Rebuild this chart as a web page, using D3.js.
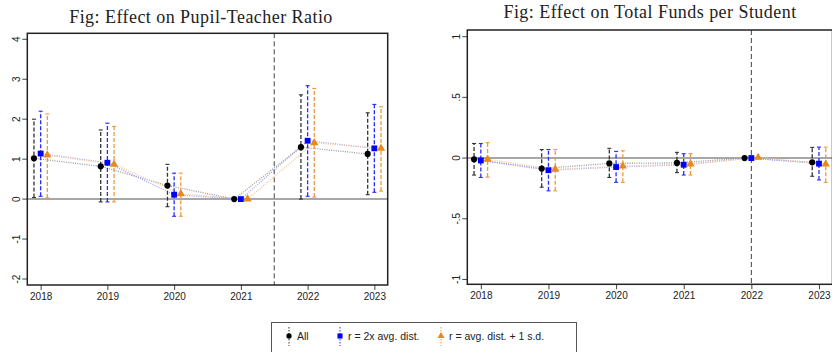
<!DOCTYPE html>
<html>
<head>
<meta charset="utf-8">
<script src="https://cdn.jsdelivr.net/npm/d3@7"></script>
<style>
  body { margin: 0; background: #fff; }
  svg { display: block; }
</style>
</head>
<body>
<svg width="832" height="352"></svg>
<script>
const years = [2018, 2019, 2020, 2021, 2022, 2023];

// effect on pupil-teacher ratio (estimate, lower and upper CI)
const ptAll     = [1.02, 0.82, 0.34, 0, 1.30, 1.13];
const ptAllLo   = [0.04, -0.07, -0.19, null, 0.00, 0.11];
const ptAllHi   = [2.00, 1.73, 0.87, null, 2.61, 2.16];
const ptTwo     = [1.14, 0.91, 0.11, 0, 1.46, 1.27];
const ptTwoLo   = [0.07, -0.07, -0.43, null, 0.07, 0.17];
const ptTwoHi   = [2.20, 1.90, 0.65, null, 2.84, 2.37];
const ptSd      = [1.10, 0.87, 0.13, 0, 1.41, 1.27];
const ptSdLo    = [0.03, -0.07, -0.43, null, 0.05, 0.20];
const ptSdHi    = [2.13, 1.82, 0.65, null, 2.77, 2.31];

// effect on total funds per student
const tfAll     = [-0.01, -0.087, -0.044, -0.04, 0, -0.035];
const tfAllLo   = [-0.14, -0.24, -0.16, -0.12, null, -0.15];
const tfAllHi   = [0.12, 0.07, 0.08, 0.047, null, 0.088];
const tfTwo     = [-0.02, -0.10, -0.074, -0.055, 0, -0.046];
const tfTwoLo   = [-0.16, -0.27, -0.20, -0.14, null, -0.18];
const tfTwoHi   = [0.12, 0.07, 0.055, 0.036, null, 0.09];
const tfSd      = [-0.01, -0.093, -0.066, -0.05, 0.005, -0.05];
const tfSdLo    = [-0.157, -0.27, -0.20, -0.14, null, -0.20];
const tfSdHi    = [0.127, 0.07, 0.06, 0.037, null, 0.09];

const ptTicks = [-2, -1, 0, 1, 2, 3, 4];
const tfTicks = [-1, -0.5, 0, 0.5, 1];
const tfTickLabels = ["-1", "-.5", "0", ".5", "1"];

const seriesNames = ["All", "r = 2x avg. dist.", "r = avg. dist. + 1 s.d."];

const svg = d3.select("svg");

// look of the three series
const styles = [
  {offset: -0.1, color: "#000", bar: "#333", line: "#9a9a9a", shape: d3.symbolCircle, size: 30},
  {offset: 0,    color: "#0000ff", bar: "#2a2aff", line: "#a0a0ff", shape: d3.symbolSquare, size: 34},
  {offset: 0.1,  color: "#e8891e", bar: "#eb9a3e", line: "#f5c999", shape: d3.symbolTriangle, size: 30}
];

function pack(est, lo, hi) {
  return years.map((y, i) => ({year: y, est: est[i], lo: lo[i], hi: hi[i]}));
}

function drawPanel(p) {
  const x = d3.scaleLinear().domain([2017.8, 2023.2]).range(p.xRange);
  const y = d3.scaleLinear().domain(p.yDomain).range(p.yRange);
  const g = svg.append("g");

  // title
  g.append("text")
    .attr("x", p.titleX)
    .attr("y", p.titleY)
    .attr("text-anchor", "middle")
    .style("font-family", "'Liberation Serif', serif")
    .style("font-size", "18px")
    .style("letter-spacing", "0.45px")
    .style("fill", "#222")
    .text(p.title);

  // y axis, labels turned like stata does
  const yAxis = g.append("g")
    .attr("transform", `translate(${p.xRange[0]},0)`)
    .call(d3.axisLeft(y).tickValues(p.ticks).tickFormat((d, i) => p.tickLabels[i]).tickSize(5));
  yAxis.select(".domain").remove();
  yAxis.selectAll(".tick").attr("transform", null);
  yAxis.selectAll(".tick line")
    .attr("y1", d => y(d)).attr("y2", d => y(d))
    .attr("stroke", "#444");
  yAxis.selectAll("text")
    .attr("transform", d => `translate(-11, ${y(d)}) rotate(-90)`)
    .attr("x", 0)
    .attr("y", 0)
    .attr("dy", "0.35em")
    .attr("text-anchor", "middle")
    .style("font-family", "'Liberation Sans', Arial, sans-serif")
    .style("font-size", "10px")
    .style("fill", "#222");

  // x axis
  const xAxis = g.append("g")
    .attr("transform", `translate(0,${p.yRange[0]})`)
    .call(d3.axisBottom(x).tickValues(years).tickFormat(d3.format("d")).tickSize(5).tickPadding(3));
  xAxis.select(".domain").remove();
  xAxis.selectAll("line").attr("stroke", "#444");
  xAxis.selectAll("text")
    .style("font-family", "'Liberation Sans', Arial, sans-serif")
    .style("font-size", "10px")
    .style("fill", "#222");

  // zero line and event line
  g.append("line")
    .attr("x1", p.xRange[0]).attr("x2", p.xRange[1])
    .attr("y1", y(0)).attr("y2", y(0))
    .attr("stroke", "#8a8a8a").attr("stroke-width", 1.5);
  g.append("line")
    .attr("x1", x(p.event)).attr("x2", x(p.event))
    .attr("y1", p.yRange[1]).attr("y2", p.yRange[0])
    .attr("stroke", "#444").attr("stroke-width", 1)
    .attr("stroke-dasharray", "5,3");

  // dotted connecting lines
  const line = d3.line().x(d => x(d.year + d.off)).y(d => y(d.est));
  p.series.forEach((s, k) => {
    const st = styles[k];
    g.append("path")
      .datum(s.map(d => Object.assign({off: st.offset}, d)))
      .attr("d", line)
      .attr("fill", "none")
      .attr("stroke", st.line)
      .attr("stroke-width", 1.3)
      .attr("stroke-dasharray", "1,1.3");
  });

  // confidence intervals
  p.series.forEach((s, k) => {
    const st = styles[k];
    const ci = s.filter(d => d.lo !== null);
    const bars = g.append("g");
    bars.selectAll("line.ci")
      .data(ci)
      .join("line")
      .attr("x1", d => x(d.year + st.offset)).attr("x2", d => x(d.year + st.offset))
      .attr("y1", d => y(d.lo)).attr("y2", d => y(d.hi))
      .attr("stroke", st.bar).attr("stroke-width", 1.3)
      .attr("stroke-dasharray", "4,2");
    ["lo", "hi"].forEach(end => {
      bars.selectAll("line.cap-" + end)
        .data(ci)
        .join("line")
        .attr("x1", d => x(d.year + st.offset) - 2).attr("x2", d => x(d.year + st.offset) + 2)
        .attr("y1", d => y(d[end])).attr("y2", d => y(d[end]))
        .attr("stroke", st.bar).attr("stroke-width", 1.1);
    });
  });

  // markers
  p.series.forEach((s, k) => {
    const st = styles[k];
    g.selectAll(null)
      .data(s)
      .join("path")
      .attr("transform", d => `translate(${x(d.year + st.offset)},${y(d.est)})`)
      .attr("d", d3.symbol(st.shape, st.size))
      .attr("fill", st.color);
  });

  // frame
  g.append("rect")
    .attr("x", p.xRange[0]).attr("y", p.yRange[1])
    .attr("width", p.xRange[1] - p.xRange[0])
    .attr("height", p.yRange[0] - p.yRange[1])
    .attr("fill", "none")
    .attr("stroke", "#222").attr("stroke-width", 1.5);
}

drawPanel({
  title: "Fig: Effect on Pupil-Teacher Ratio",
  titleX: 201, titleY: 22.5,
  xRange: [27.3, 387.7],
  yDomain: [-2.15, 4.15], yRange: [285, 33.3],
  ticks: ptTicks, tickLabels: ptTicks.map(String),
  event: 2021.5,
  series: [pack(ptAll, ptAllLo, ptAllHi), pack(ptTwo, ptTwoLo, ptTwoHi), pack(ptSd, ptSdLo, ptSdHi)]
});

drawPanel({
  title: "Fig: Effect on Total Funds per Student",
  titleX: 650, titleY: 18,
  xRange: [467.3, 832.5],
  yDomain: [-1.04, 1.055], yRange: [284.3, 30],
  ticks: tfTicks, tickLabels: tfTickLabels,
  event: 2022,
  series: [pack(tfAll, tfAllLo, tfAllHi), pack(tfTwo, tfTwoLo, tfTwoHi), pack(tfSd, tfSdLo, tfSdHi)]
});

// legend
const legend = svg.append("g");
legend.append("rect")
  .attr("x", 271.5).attr("y", 322.5)
  .attr("width", 305).attr("height", 40)
  .attr("fill", "#fff")
  .attr("stroke", "#555").attr("stroke-width", 1);

const legendX = [289, 340, 441];
seriesNames.forEach((name, k) => {
  const st = styles[k];
  const lx = legendX[k];
  legend.append("line")
    .attr("x1", lx).attr("x2", lx)
    .attr("y1", 327).attr("y2", 346)
    .attr("stroke", st.bar).attr("stroke-width", 1)
    .attr("stroke-dasharray", "1.5,1.5");
  legend.append("path")
    .attr("transform", `translate(${lx},336)`)
    .attr("d", d3.symbol(st.shape, st.size - 8))
    .attr("fill", st.color);
  legend.append("text")
    .attr("x", lx + 8).attr("y", 339.5)
    .style("font-family", "'Liberation Sans', Arial, sans-serif")
    .style("font-size", "10.5px")
    .style("fill", "#222")
    .text(name);
});
</script>
</body>
</html>
